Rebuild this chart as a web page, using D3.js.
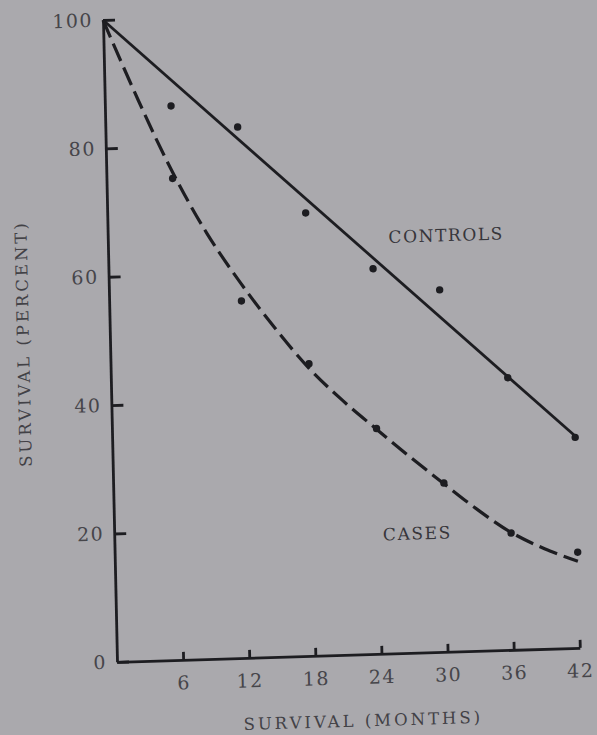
<!DOCTYPE html>
<html>
<head>
<meta charset="utf-8">
<script src="https://cdnjs.cloudflare.com/ajax/libs/d3/7.8.5/d3.min.js"></script>
<style>
  html, body { margin: 0; padding: 0; background: #aaa9ad; }
  svg { display: block; }
  .axis path, .axis line { stroke: #1d1d21; stroke-width: 2.8; }
  .axis text { font-family: "DejaVu Serif", serif; font-size: 19px; letter-spacing: 1.5px; }
  .title { font-family: "DejaVu Serif", serif; font-size: 16.5px; fill: #424146; letter-spacing: 3px; }
  .label { font-family: "DejaVu Serif", serif; font-size: 17px; fill: #37363b; letter-spacing: 1.6px; }
</style>
</head>
<body>
<script>
// data
var monthTicks = [6, 12, 18, 24, 30, 36, 42];
var percentTicks = [0, 20, 40, 60, 80, 100];

var obsMonths = [6, 12, 18, 24, 30, 36, 42];
var controlsObs = [86.3, 82.7, 69.0, 60.0, 56.4, 42.4, 32.8];
var casesObs = [75.0, 55.6, 45.5, 35.1, 26.3, 18.2, 14.9];

// fitted controls line (straight)
var controlsFitMonths = [0, 42];
var controlsFitVals = [100, 33];

// fitted cases curve (dashed)
var casesFitMonths = [0, 3, 6, 9, 12, 15, 18, 21, 24, 27, 30, 33, 36, 39, 42];
var casesFitVals = [100, 87.5, 76, 66.3, 58.3, 51.2, 44.8, 39.6, 35, 30.5, 26.2, 22, 18.3, 15.6, 13.5];

// text labels [month, percent]
var controlsLabelAt = [30.7, 64.9];
var casesLabelAt = [27.5, 18.6];

var W = 597, H = 735;
var plotW = 463, plotH = 642;

var svg = d3.select('body').append('svg')
  .attr('width', W)
  .attr('height', H);

svg.append('rect')
  .attr('width', W)
  .attr('height', H)
  .attr('fill', '#aaa9ad');

// the scanned figure sits slightly tilted, so the plot frame is skewed a touch
var g = svg.append('g')
  .attr('transform', 'matrix(0.99954,-0.03022,0.0218,0.99976,103,20)');

var x = d3.scaleLinear().domain([0, 42]).range([0, plotW]);
var y = d3.scaleLinear().domain([0, 100]).range([plotH, 0]);

// axes, ticks point inward
g.append('g')
  .attr('class', 'axis')
  .attr('transform', 'translate(0,' + plotH + ')')
  .call(d3.axisBottom(x).tickValues(monthTicks).tickSizeInner(-8).tickSizeOuter(0).tickPadding(16))
  .call(function(a){ a.selectAll('text').attr('fill', '#46454a'); });

g.append('g')
  .attr('class', 'axis')
  .call(d3.axisLeft(y).tickValues(percentTicks).tickSizeInner(-12).tickSizeOuter(0).tickPadding(10))
  .call(function(a){ a.selectAll('text').attr('fill', '#46454a'); });

d3.selectAll('.axis .domain').attr('fill', 'none');

var lineData = function(xs, ys){
  return xs.map(function(d, i){ return [d, ys[i]]; });
};

var line = d3.line()
  .x(function(d){ return x(d[0]); })
  .y(function(d){ return y(d[1]); });

// controls fit
g.append('path')
  .datum(lineData(controlsFitMonths, controlsFitVals))
  .attr('d', line)
  .attr('fill', 'none')
  .attr('stroke', '#1d1d21')
  .attr('stroke-width', 2.8);

// cases fit
g.append('path')
  .datum(lineData(casesFitMonths, casesFitVals))
  .attr('d', line.curve(d3.curveCatmullRom.alpha(0.5)))
  .attr('fill', 'none')
  .attr('stroke', '#1d1d21')
  .attr('stroke-width', 3.2)
  .attr('stroke-dasharray', '19,7');

// observed points
g.selectAll('.ctrl')
  .data(lineData(obsMonths, controlsObs))
  .enter().append('circle')
  .attr('class', 'ctrl')
  .attr('cx', function(d){ return x(d[0]); })
  .attr('cy', function(d){ return y(d[1]); })
  .attr('r', 3.7)
  .attr('fill', '#1d1d21');

g.selectAll('.case')
  .data(lineData(obsMonths, casesObs))
  .enter().append('circle')
  .attr('class', 'case')
  .attr('cx', function(d){ return x(d[0]); })
  .attr('cy', function(d){ return y(d[1]); })
  .attr('r', 3.7)
  .attr('fill', '#1d1d21');

// series labels
g.append('text')
  .attr('class', 'label')
  .attr('x', x(controlsLabelAt[0]))
  .attr('y', y(controlsLabelAt[1]))
  .attr('dy', '0.36em')
  .attr('text-anchor', 'middle')
  .text('CONTROLS');

g.append('text')
  .attr('class', 'label')
  .attr('x', x(casesLabelAt[0]))
  .attr('y', y(casesLabelAt[1]))
  .attr('dy', '0.36em')
  .attr('text-anchor', 'middle')
  .text('CASES');

// axis titles
g.append('text')
  .attr('class', 'title')
  .attr('x', 245)
  .attr('y', 714)
  .attr('text-anchor', 'middle')
  .text('SURVIVAL (MONTHS)');

g.append('text')
  .attr('class', 'title')
  .attr('transform', 'translate(-81,321) rotate(-90)')
  .attr('text-anchor', 'middle')
  .text('SURVIVAL (PERCENT)');
</script>
</body>
</html>
